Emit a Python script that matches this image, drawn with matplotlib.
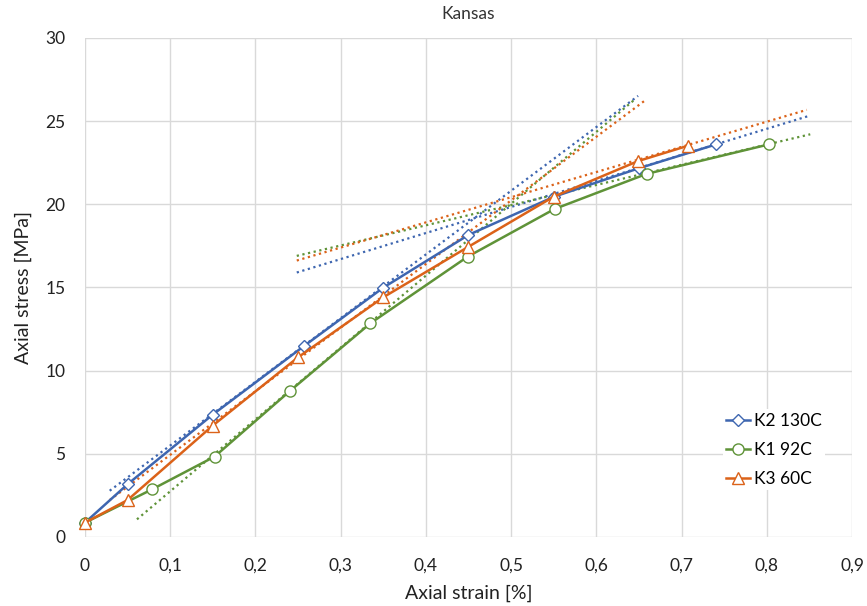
import numpy as np
import matplotlib.pyplot as plt
from matplotlib.ticker import FuncFormatter, MultipleLocator

plt.rcParams['font.family'] = ['Lato', 'DejaVu Sans']

# measured curves: axial strain [%] vs axial stress [MPa]
k2_strain = [0.0, 0.05, 0.15, 0.257, 0.35, 0.45, 0.55, 0.65, 0.741]
k2_stress = [0.86, 3.17, 7.36, 11.48, 14.99, 18.16, 20.45, 22.17, 23.61]

k1_strain = [0.0, 0.079, 0.152, 0.241, 0.335, 0.449, 0.551, 0.659, 0.803]
k1_stress = [0.86, 2.87, 4.83, 8.8, 12.85, 16.85, 19.72, 21.83, 23.61]

k3_strain = [0.0, 0.05, 0.15, 0.25, 0.35, 0.449, 0.55, 0.649, 0.708]
k3_stress = [0.86, 2.22, 6.7, 10.8, 14.41, 17.42, 20.46, 22.6, 23.53]

# linear trend lines (start, end) for the elastic and the upper part
k2_fit_lo_x = [0.029, 0.649]
k2_fit_lo_y = [2.78, 26.52]
k2_fit_hi_x = [0.2485, 0.851]
k2_fit_hi_y = [15.9, 25.34]

k1_fit_lo_x = [0.061, 0.645]
k1_fit_lo_y = [1.06, 26.3]
k1_fit_hi_x = [0.2485, 0.851]
k1_fit_hi_y = [16.9, 24.21]

k3_fit_lo_x = [0.029, 0.657]
k3_fit_lo_y = [2.22, 26.24]
k3_fit_hi_x = [0.2485, 0.847]
k3_fit_hi_y = [16.62, 25.68]

blue = '#3E66B0'
green = '#5F9338'
orange = '#DB6219'

fig = plt.figure(figsize=(8.67, 6.06), dpi=100)
ax = fig.add_axes([0.098, 0.1139, 0.8847, 0.8234])

# trend lines first so the data sits on top
for fx, fy, c in [(k2_fit_lo_x, k2_fit_lo_y, blue), (k2_fit_hi_x, k2_fit_hi_y, blue),
                  (k1_fit_lo_x, k1_fit_lo_y, green), (k1_fit_hi_x, k1_fit_hi_y, green),
                  (k3_fit_lo_x, k3_fit_lo_y, orange), (k3_fit_hi_x, k3_fit_hi_y, orange)]:
    ax.plot(fx, fy, linestyle=(0, (1, 1.6)), color=c, linewidth=1.6, zorder=2)

ax.plot(k2_strain, k2_stress, color=blue, linewidth=1.8, marker='D', markersize=6,
        markerfacecolor='white', markeredgecolor=blue, markeredgewidth=1.0,
        label='K2 130C', zorder=3, clip_on=False)
ax.plot(k1_strain, k1_stress, color=green, linewidth=1.8, marker='o', markersize=8,
        markerfacecolor='white', markeredgecolor=green, markeredgewidth=1.0,
        label='K1 92C', zorder=3, clip_on=False)
ax.plot(k3_strain, k3_stress, color=orange, linewidth=1.8, marker='^', markersize=9,
        markerfacecolor='white', markeredgecolor=orange, markeredgewidth=1.0,
        label='K3 60C', zorder=3, clip_on=False)

ax.set_xlim(0, 0.9)
ax.set_ylim(0, 30)
ax.xaxis.set_major_locator(MultipleLocator(0.1))
ax.yaxis.set_major_locator(MultipleLocator(5))
comma = FuncFormatter(lambda v, p: ('%g' % round(v, 2)).replace('.', ','))
ax.xaxis.set_major_formatter(comma)
ax.yaxis.set_major_formatter(comma)

ax.grid(True, color='#D9D9D9', linewidth=1.0, zorder=0)
ax.set_axisbelow(True)
for s in ax.spines.values():
    s.set_visible(False)
ax.tick_params(length=0, labelsize=12.5, colors='#222222')
ax.tick_params(axis='x', pad=15)
ax.tick_params(axis='y', pad=14)

ax.set_xlabel('Axial strain [%]', fontsize=14, color='#222222', labelpad=8)
ax.set_ylabel('Axial stress [MPa]', fontsize=14, color='#222222', labelpad=10)
ax.set_title('Kansas', fontsize=12.5, color='#333333', pad=14)

leg = ax.legend(loc='center left', bbox_to_anchor=(0.82, 0.175), frameon=True,
                fontsize=12.5, handlelength=1.4, handletextpad=0.2,
                labelspacing=0.75, borderpad=0.2)
leg.get_frame().set_edgecolor('none')
leg.get_frame().set_facecolor('white')
leg.get_frame().set_alpha(1)

fig.savefig('out.png', dpi=100)
